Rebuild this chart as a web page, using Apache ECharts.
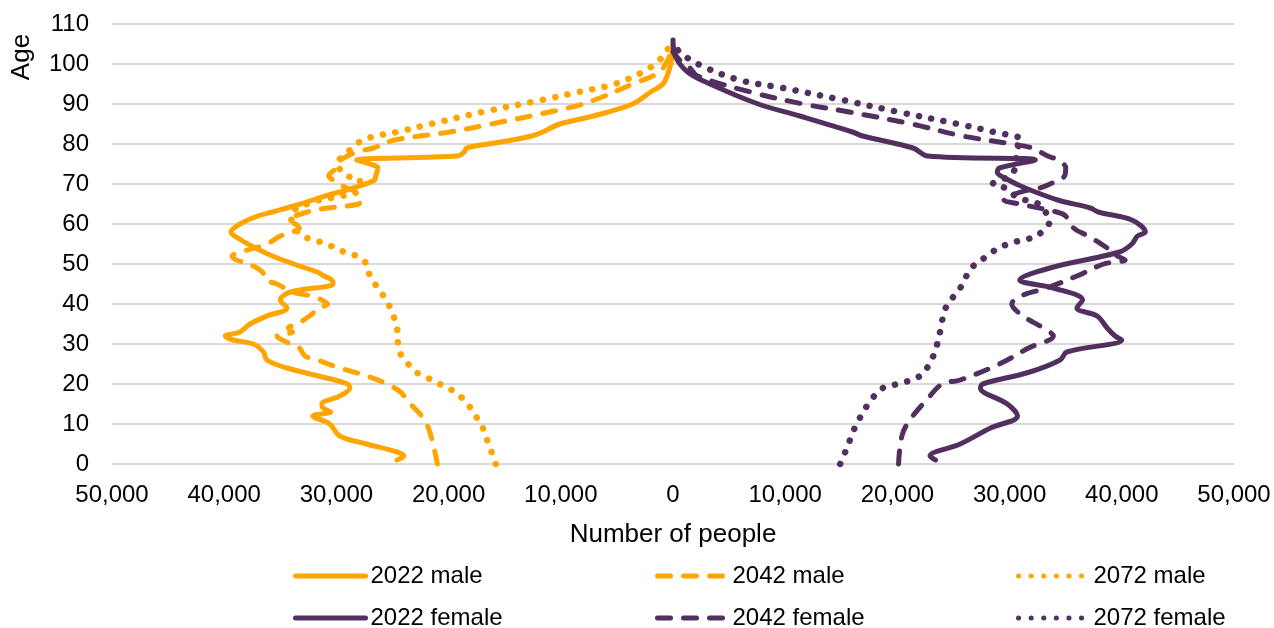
<!DOCTYPE html>
<html>
<head>
<meta charset="utf-8">
<title>Population by age and sex</title>
<script src="https://cdn.jsdelivr.net/npm/echarts@6/dist/echarts.min.js"></script>
<style>
  html, body { margin: 0; padding: 0; background: #ffffff; }
  #chart { width: 1274px; height: 628px; }
</style>
</head>
<body>
<div id="chart"></div>
<script>
// Population by single year of age, 2022 estimate and 2042 / 2072 projections.
// Males are plotted to the left of zero, females to the right.

const male2022Ages = [1,2,3,5,7,10,12,13,14,15,17,19,20,22,24,26,28,30,31,32,33,35,37,39,41,43,45,46,47,48,50,52,54,56,58,60,62,63,65,67,69,71,72,74,75,76,77,78,79,80,81,82,83,85,87,90,93,95,98,100,103,105];
const male2022 = [24600,24000,24600,27300,29700,30600,32100,30500,31200,31300,29700,28800,29000,31600,34400,36200,36500,37400,39200,39900,38600,37700,36200,34400,35000,34100,30300,30400,31100,31700,33800,35700,37200,38500,39400,38600,37000,35700,33200,31000,28500,26600,26500,26300,27000,28200,19200,18600,18400,16500,14300,12600,11600,10100,7100,3600,2000,900,400,200,50,0];

const male2042Ages = [0,4,9,12,15,18,20,22,24,26,27,29,30,32,33,34,35,37,39,40,41,42,43,45,46,48,50,51,52,53,55,57,58,59,61,63,64,65,66,68,69,71,72,74,76,78,79,81,83,85,89,91,95,98,102,104];
const male2042 = [21000,21300,21800,22400,23400,24300,25500,27300,29700,31700,32800,33300,34100,35300,33900,34300,33500,32400,31500,30800,31300,32300,33900,35300,36300,36600,37800,38900,39300,38500,36200,35000,33900,33300,34100,32600,30800,28000,27900,28300,29100,30300,30700,30000,29600,28200,26700,24800,19900,16200,9400,7000,3600,1200,300,0];

const male2072Ages = [0,4,7,10,12,15,17,19,20,22,23,25,27,30,34,39,42,47,50,52,53,55,56,57,59,61,62,64,65,66,67,68,71,72,74,75,77,78,80,81,82,83,85,88,91,93,95,98,101,104,106];
const male2072 = [15800,16300,16700,17100,17600,18300,19000,20000,20800,22200,22900,23600,24200,24500,24600,25200,25800,27000,27300,28200,29300,30900,32000,33000,33700,34000,34100,33500,32600,31500,29500,28200,27900,29000,29800,30000,29400,29000,28200,27600,26500,24600,21600,17000,11700,8400,5200,2700,1200,400,0];

const female2022Ages = [1,2,5,9,12,15,19,20,23,26,28,31,32,34,37,39,41,44,46,49,53,55,57,58,61,63,64,66,69,71,73,74,76,77,79,82,83,87,90,95,98,102,106];
const female2022 = [23400,22900,25600,28300,30700,29800,27400,27600,31800,34500,35100,40000,39400,38700,37800,36000,36500,33900,30900,33600,39800,40900,41400,42100,40900,37900,37200,34300,31400,29900,28900,29100,32300,22700,21400,16900,16000,11300,7600,3300,1300,200,0];

const female2042Ages = [0,7,11,16,20,21,25,29,32,34,37,40,42,44,47,50,51,52,54,57,59,62,63,65,66,68,69,70,72,74,76,77,79,80,82,85,88,90,93,97,99,101,103];
const female2042 = [20100,20400,21100,22600,24000,25600,29100,31700,33900,33000,31200,30200,31000,33300,36000,38400,40300,39600,38700,37000,35700,35000,34200,30900,29500,31000,32700,33600,34900,35000,34300,33400,32000,30200,25800,21300,15700,11600,6900,2200,1500,600,0];

const female2072Ages = [0,4,9,15,19,20,22,27,33,39,44,49,52,54,55,56,57,61,63,65,66,67,69,70,72,74,77,79,81,83,85,88,91,94,96,100,103,105];
const female2072 = [14900,15500,16200,17400,18700,20000,22000,23200,23800,24300,25600,26600,28000,29000,29900,31100,32400,33600,33200,32600,31400,30500,29600,28500,30000,30500,30600,30700,31100,28600,25400,20100,15100,9800,5900,2200,600,0];

const xTicks = { min: -50000, max: 50000, step: 10000 };
const yTicks = { min: 0, max: 110, step: 10 };

const ORANGE = '#FFA500';
const PURPLE = '#51305F';
const FONT = '"Liberation Sans", Arial, Helvetica, sans-serif';
const LABEL_SIZE = 24;
const TITLE_SIZE = 26;

const SOLID = 'solid';
const DASHED = [13, 13];
const DOTTED = [0.1, 12.5];

// [number, age] pairs; males are negated so they sit left of zero.
function toPoints(ages, values, side) {
  return ages.map((age, i) => [side * values[i], age]);
}

function lineSeries(name, ages, values, side, color, dash) {
  return {
    name: name,
    type: 'line',
    data: toPoints(ages, values, side),
    symbol: 'none',
    showSymbol: false,
    smooth: 0.35,
    clip: false,
    lineStyle: {
      width: dash === DOTTED ? 6.5 : 5,
      color: color,
      type: dash,
      cap: 'round',
      join: 'round'
    },
    itemStyle: { color: color },
    emphasis: { disabled: true }
  };
}

function legendEntry(name, left, top) {
  return {
    data: [name],
    left: left,
    top: top,
    padding: 0,
    itemWidth: 70,
    itemHeight: 10,
    selectedMode: false,
    itemStyle: { opacity: 0 },
    lineStyle: { width: 5 },
    textStyle: { fontFamily: FONT, fontSize: LABEL_SIZE, color: '#000000' }
  };
}

const chart = echarts.init(document.getElementById('chart'), null, { renderer: 'canvas' });

chart.setOption({
  animation: false,
  backgroundColor: '#ffffff',
  textStyle: { fontFamily: FONT },
  grid: { left: 112, right: 40, top: 24, bottom: 164, containLabel: false, outerBoundsMode: 'none' },
  xAxis: {
    type: 'value',
    min: xTicks.min,
    max: xTicks.max,
    interval: xTicks.step,
    name: 'Number of people',
    nameLocation: 'middle',
    nameGap: 58,
    nameTextStyle: { fontFamily: FONT, fontSize: TITLE_SIZE, color: '#000000' },
    axisLine: { show: false },
    axisTick: { show: false },
    splitLine: { show: false },
    axisLabel: {
      margin: 19,
      fontFamily: FONT,
      fontSize: LABEL_SIZE,
      color: '#000000',
      formatter: v => Math.abs(v).toLocaleString('en-US')
    }
  },
  yAxis: {
    type: 'value',
    min: yTicks.min,
    max: yTicks.max,
    interval: yTicks.step,
    axisLine: { show: false },
    axisTick: { show: false },
    splitLine: { show: true, lineStyle: { color: '#D9D9D9', width: 2 } },
    axisLabel: { margin: 23, fontFamily: FONT, fontSize: LABEL_SIZE, color: '#000000' }
  },
  graphic: [{
    type: 'text',
    x: 22,
    y: 57,
    rotation: Math.PI / 2,
    style: {
      text: 'Age',
      font: TITLE_SIZE + 'px ' + FONT,
      fill: '#000000',
      align: 'center',
      verticalAlign: 'middle'
    }
  }],
  legend: [
    legendEntry('2022 male', 293, 564),
    legendEntry('2042 male', 655, 564),
    legendEntry('2072 male', 1016, 564),
    legendEntry('2022 female', 293, 606),
    legendEntry('2042 female', 655, 606),
    legendEntry('2072 female', 1016, 606)
  ],
  series: [
    lineSeries('2022 male', male2022Ages, male2022, -1, ORANGE, SOLID),
    lineSeries('2042 male', male2042Ages, male2042, -1, ORANGE, DASHED),
    lineSeries('2072 male', male2072Ages, male2072, -1, ORANGE, DOTTED),
    lineSeries('2022 female', female2022Ages, female2022, 1, PURPLE, SOLID),
    lineSeries('2042 female', female2042Ages, female2042, 1, PURPLE, DASHED),
    lineSeries('2072 female', female2072Ages, female2072, 1, PURPLE, DOTTED)
  ]
});
</script>
</body>
</html>
